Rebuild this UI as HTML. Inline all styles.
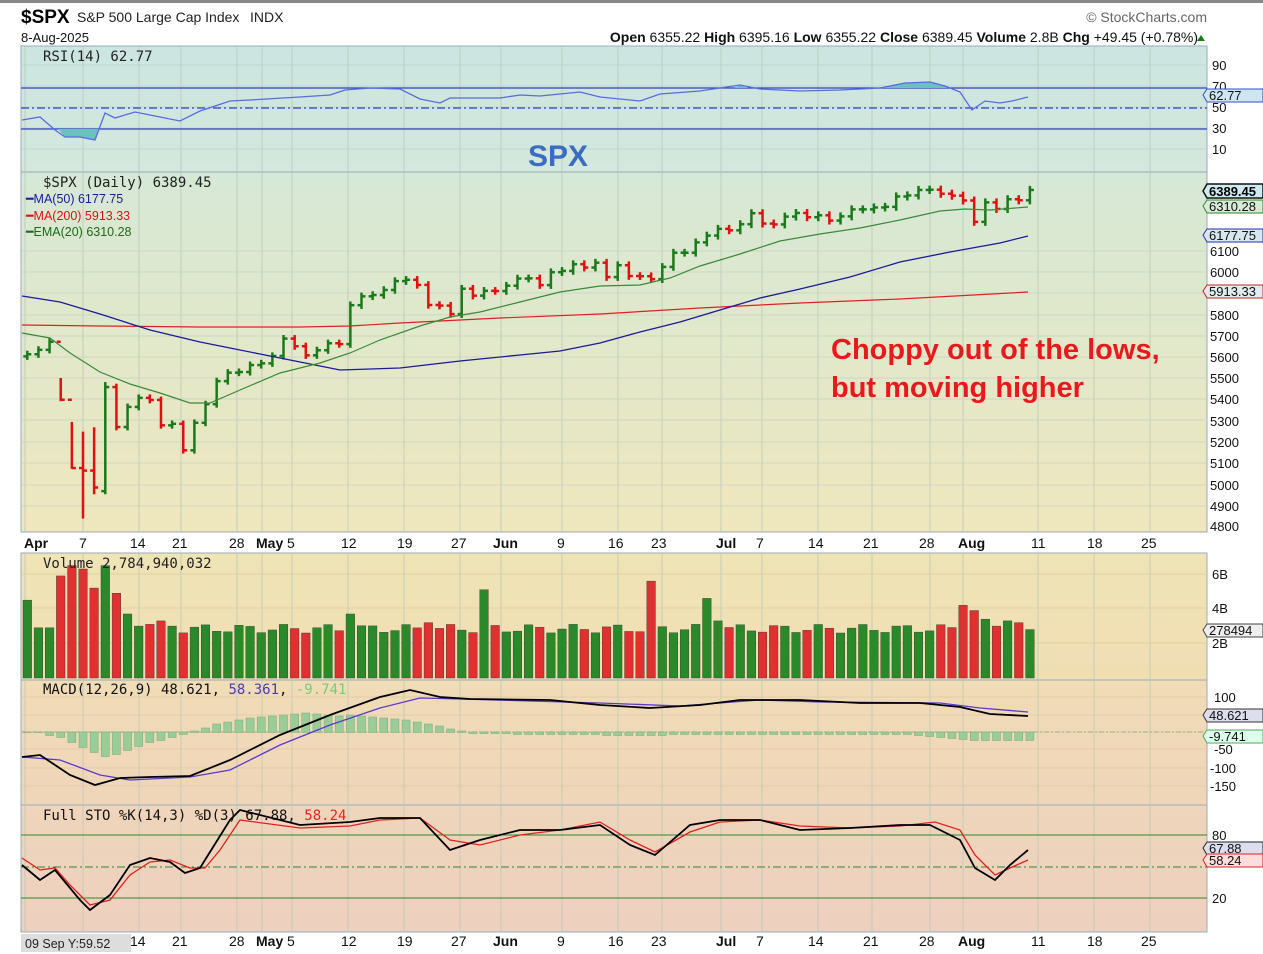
<!DOCTYPE html>
<html><head><meta charset="utf-8"><style>
body{margin:0;background:#fff;width:1263px;height:954px;overflow:hidden;font-family:"Liberation Sans",sans-serif}
svg{position:absolute;left:0;top:0}
</style></head><body>
<svg id="s" width="1263" height="954" xmlns="http://www.w3.org/2000/svg" font-family="Liberation Sans, sans-serif">
<defs>
<linearGradient id="gR" x1="0" y1="0" x2="0" y2="1"><stop offset="0" stop-color="#cbe5e0"/><stop offset="1" stop-color="#d4e8dd"/></linearGradient>
<linearGradient id="gP" x1="0" y1="0" x2="0" y2="1"><stop offset="0" stop-color="#d6e8d6"/><stop offset="1" stop-color="#efe7bd"/></linearGradient>
<linearGradient id="gV" x1="0" y1="0" x2="0" y2="1"><stop offset="0" stop-color="#efe4b6"/><stop offset="1" stop-color="#f0deb3"/></linearGradient>
<linearGradient id="gM" x1="0" y1="0" x2="0" y2="1"><stop offset="0" stop-color="#f0dcb6"/><stop offset="1" stop-color="#f0d5b9"/></linearGradient>
<linearGradient id="gS" x1="0" y1="0" x2="0" y2="1"><stop offset="0" stop-color="#efd5bb"/><stop offset="1" stop-color="#eed0bf"/></linearGradient>
</defs>
<rect x="0" y="0" width="1263" height="3" fill="#888"/>
<rect x="21" y="46" width="1186" height="126" fill="url(#gR)" stroke="#9ab" />
<rect x="21" y="172" width="1186" height="360" fill="url(#gP)" stroke="#9ab"/>
<rect x="21" y="553" width="1186" height="127" fill="url(#gV)" stroke="#9ab"/>
<rect x="21" y="680" width="1186" height="125" fill="url(#gM)" stroke="#9ab"/>
<rect x="21" y="805" width="1186" height="127" fill="url(#gS)" stroke="#9ab"/>
<g id="grid"></g>
<g id="plot"></g>
<text x="21" y="23" font-size="19" font-weight="bold" fill="#000">$SPX</text>
<text x="77" y="22" font-size="14" fill="#222">S&amp;P 500 Large Cap Index</text>
<text x="250" y="22" font-size="14" fill="#222">INDX</text>
<text x="21" y="42" font-size="13" fill="#111">8-Aug-2025</text>
<text x="1207" y="22" font-size="14" fill="#666" text-anchor="end">© StockCharts.com</text>
<text x="1198" y="42" font-size="14" fill="#111" text-anchor="end"><tspan font-weight="bold">Open</tspan> 6355.22  <tspan font-weight="bold">High</tspan> 6395.16  <tspan font-weight="bold">Low</tspan> 6355.22  <tspan font-weight="bold">Close</tspan> 6389.45  <tspan font-weight="bold">Volume</tspan> 2.8B  <tspan font-weight="bold">Chg</tspan> +49.45 (+0.78%)</text>
<polygon points="1197,41 1205,41 1201,35" fill="#1a7a1a"/>
<text x="43" y="61" font-size="14" fill="#222" font-family="DejaVu Sans Mono, monospace">RSI(14) 62.77</text>
<text x="528" y="166" font-size="30" font-weight="bold" fill="#3a6cc0">SPX</text>
<text x="43" y="187" font-size="14" fill="#222" font-family="DejaVu Sans Mono, monospace">$SPX (Daily) 6389.45</text>
<text x="26" y="203" font-size="12.5" fill="#1a1a9a">━MA(50) 6177.75</text>
<text x="26" y="220" font-size="12.5" fill="#d11">━MA(200) 5913.33</text>
<text x="26" y="236" font-size="12.5" fill="#1a6a1a">━EMA(20) 6310.28</text>
<text x="831" y="359" font-size="29" font-weight="bold" fill="#e8191c">Choppy out of the lows,</text>
<text x="831" y="397" font-size="29" font-weight="bold" fill="#e8191c">but moving higher</text>
<text x="43" y="568" font-size="14" fill="#222" font-family="DejaVu Sans Mono, monospace">Volume 2,784,940,032</text>
<text x="43" y="694" font-size="14" fill="#111" font-family="DejaVu Sans Mono, monospace">MACD(12,26,9) 48.621, <tspan fill="#4a3ab0">58.361</tspan>, <tspan fill="#7c7">-9.741</tspan></text>
<text x="43" y="820" font-size="14" fill="#111" font-family="DejaVu Sans Mono, monospace">Full STO %K(14,3) %D(3) 67.88, <tspan fill="#e22">58.24</tspan></text>
<g font-size="13" fill="#111">
<text x="1212" y="70">90</text><text x="1212" y="91">70</text><text x="1212" y="112">50</text><text x="1212" y="133">30</text><text x="1212" y="154">10</text>
<text x="1210" y="256">6100</text><text x="1210" y="277">6000</text><text x="1210" y="320">5800</text><text x="1210" y="341">5700</text><text x="1210" y="362">5600</text><text x="1210" y="383">5500</text><text x="1210" y="404">5400</text><text x="1210" y="426">5300</text><text x="1210" y="447">5200</text><text x="1210" y="468">5100</text><text x="1210" y="490">5000</text><text x="1210" y="511">4900</text><text x="1210" y="531">4800</text>
<text x="1212" y="579">6B</text><text x="1212" y="613">4B</text><text x="1212" y="648">2B</text>
<text x="1214" y="702">100</text><text x="1214" y="754">-50</text><text x="1210" y="773">-100</text><text x="1210" y="791">-150</text>
<text x="1212" y="840">80</text><text x="1212" y="903">20</text>
</g>
<g font-size="13">
<path d="M1203,95 l4,-6 h56 v13 h-56z" fill="#cfe6f0" stroke="#3050c0"/><text x="1209" y="100" fill="#111">62.77</text>
<path d="M1203,191 l4,-7 h56 v14 h-56z" fill="#cfeaf0" stroke="#111" stroke-width="1.5"/><text x="1209" y="196" font-weight="bold" fill="#000">6389.45</text>
<path d="M1203,206 l4,-6 h56 v13 h-56z" fill="#d8ead8" stroke="#2a8a2a"/><text x="1209" y="211" fill="#111">6310.28</text>
<path d="M1203,235 l4,-6 h56 v13 h-56z" fill="#d8e6ee" stroke="#2030b0"/><text x="1209" y="240" fill="#111">6177.75</text>
<path d="M1203,291 l4,-6 h56 v13 h-56z" fill="#e0ecee" stroke="#d02020"/><text x="1209" y="296" fill="#111">5913.33</text>
<path d="M1203,630 l4,-6 h56 v13 h-56z" fill="#eee" stroke="#444"/><text x="1209" y="635" fill="#111">278494</text>
<path d="M1203,715 l4,-6 h56 v13 h-56z" fill="#dde" stroke="#333"/><text x="1209" y="720" fill="#111">48.621</text>
<path d="M1203,736 l4,-6 h56 v13 h-56z" fill="#dfe" stroke="#5a5"/><text x="1209" y="741" fill="#111">-9.741</text>
<path d="M1203,848 l4,-6 h56 v13 h-56z" fill="#dde" stroke="#222"/><text x="1209" y="853" fill="#111">67.88</text>
<path d="M1203,860 l4,-6 h56 v13 h-56z" fill="#fdd" stroke="#d22"/><text x="1209" y="865" fill="#111">58.24</text>
</g>
<g font-size="14" fill="#111">
<text x="24" y="548" font-weight="bold">Apr</text><text x="79" y="548">7</text><text x="130" y="548">14</text><text x="172" y="548">21</text><text x="229" y="548">28</text><text x="256" y="548" font-weight="bold">May</text><text x="287" y="548">5</text><text x="341" y="548">12</text><text x="397" y="548">19</text><text x="451" y="548">27</text><text x="493" y="548" font-weight="bold">Jun</text><text x="557" y="548">9</text><text x="608" y="548">16</text><text x="651" y="548">23</text><text x="716" y="548" font-weight="bold">Jul</text><text x="756" y="548">7</text><text x="808" y="548">14</text><text x="863" y="548">21</text><text x="919" y="548">28</text><text x="958" y="548" font-weight="bold">Aug</text><text x="1031" y="548">11</text><text x="1087" y="548">18</text><text x="1141" y="548">25</text>
<text x="130" y="946">14</text><text x="172" y="946">21</text><text x="229" y="946">28</text><text x="256" y="946" font-weight="bold">May</text><text x="287" y="946">5</text><text x="341" y="946">12</text><text x="397" y="946">19</text><text x="451" y="946">27</text><text x="493" y="946" font-weight="bold">Jun</text><text x="557" y="946">9</text><text x="608" y="946">16</text><text x="651" y="946">23</text><text x="716" y="946" font-weight="bold">Jul</text><text x="756" y="946">7</text><text x="808" y="946">14</text><text x="863" y="946">21</text><text x="919" y="946">28</text><text x="958" y="946" font-weight="bold">Aug</text><text x="1031" y="946">11</text><text x="1087" y="946">18</text><text x="1141" y="946">25</text>
</g>
<rect x="21" y="934" width="110" height="18" fill="#ddd"/>
<text x="25" y="948" font-size="12.5" fill="#222">09 Sep Y:59.52</text>
</svg>
<script>
var NS="http://www.w3.org/2000/svg";
function el(p,t,a){var e=document.createElementNS(NS,t);for(var k in a)e.setAttribute(k,a[k]);p.appendChild(e);return e;}
var G=document.getElementById('grid'),P=document.getElementById('plot');
var vx=[25,83,139,181,237,262,292,348,404,460,501,562,618,662,721,762,818,872,930,963,1038,1094,1150];
var panels=[[46,172],[172,532],[553,680],[680,805],[805,932]];
panels.forEach(function(p){vx.forEach(function(x){el(G,'line',{x1:x,x2:x,y1:p[0],y2:p[1],stroke:'#b8c8b8','stroke-width':0.8});});});
[251,272,293,315,336,357,378,399,420,442,463,485,506].forEach(function(y){el(G,'line',{x1:21,x2:1207,y1:y,y2:y,stroke:'#c4d2c0','stroke-width':0.7});});
[65,86,107,128,149].forEach(function(y){el(G,'line',{x1:21,x2:1207,y1:y,y2:y,stroke:'#b8d0cc','stroke-width':0.7});});
[574,608,643].forEach(function(y){el(G,'line',{x1:21,x2:1207,y1:y,y2:y,stroke:'#d8cca0','stroke-width':0.7});});
[697,715,732,749,768,786].forEach(function(y){el(G,'line',{x1:21,x2:1207,y1:y,y2:y,stroke:'#dcc8a8','stroke-width':0.7});});
el(P,'line',{x1:21,x2:1207,y1:88,y2:88,stroke:'#3040c0','stroke-width':1.3});
el(P,'line',{x1:21,x2:1207,y1:129,y2:129,stroke:'#3040c0','stroke-width':1.3});
el(P,'line',{x1:21,x2:1207,y1:108,y2:108,stroke:'#3040c0','stroke-width':1.2,'stroke-dasharray':'8,3,2,3'});
var rsi="22,120 40,117 55,130 65,137 80,137 95,140 105,113 115,118 135,112 160,117 180,121 200,111 230,101 250,100 300,97 330,95 345,90 370,88 400,89 420,99 440,103 450,98 500,98 520,95 540,96 560,94 580,92 600,97 640,101 660,94 700,91 740,85 760,89 800,91 840,90 880,88 905,83 930,82 945,86 960,92 972,110 985,101 1000,103 1012,101 1028,97";
el(P,'polygon',{points:"58,129 65,137 80,137 95,140 100,129",fill:'#6cc0c0'});
el(P,'polygon',{points:"880,88 905,83 930,82 945,86 947,88",fill:'#6cc0c0'});
el(P,'polygon',{points:"735,88 740,85 748,88",fill:'#6cc0c0'});
el(P,'polyline',{points:rsi,fill:'none',stroke:'#5a6ae0','stroke-width':1.3});
var C=[5612,5633,5671,5397,5074,5062,4982,5457,5268,5363,5406,5396,5276,5283,5158,5288,5376,5485,5525,5528,5561,5569,5604,5686,5650,5607,5631,5664,5660,5844,5886,5892,5916,5958,5964,5940,5845,5842,5802,5922,5889,5912,5911,5936,5970,5971,5939,6000,6006,6038,6022,6045,5977,6033,5982,5981,5967,6025,6092,6092,6141,6173,6205,6198,6227,6279,6230,6226,6263,6280,6260,6269,6244,6264,6297,6297,6306,6309,6358,6363,6389,6390,6371,6362,6339,6238,6330,6299,6345,6340,6389];
var Hs={5:5246,6:5267,7:5481,4:5292,3:5500},Ls={5:4835,6:4950,7:4950,4:5070,3:5390};
function X(i){return 83+11.14*(i-5);}
function Y(p){return 526-(p-4800)*0.2115;}
for(var i=0;i<C.length;i++){
 var c=C[i],o=i?C[i-1]:c-10; if(i==7)o=4965;
 var h=Hs[i]||Math.max(o,c)+c*0.003, l=Ls[i]||Math.min(o,c)-c*0.003;
 var col=(i&&c<C[i-1])?'#e01010':'#1a7a1a', x=X(i);
 el(P,'line',{x1:x,x2:x,y1:Y(h),y2:Y(l),stroke:col,'stroke-width':2.5});
 el(P,'line',{x1:x-4,x2:x,y1:Y(o),y2:Y(o),stroke:col,'stroke-width':2.5});
 el(P,'line',{x1:x,x2:x+4,y1:Y(c),y2:Y(c),stroke:col,'stroke-width':2.5});
}
el(P,'polyline',{points:"22,325 100,326 200,327 300,327 350,326 400,323 500,318 600,314 700,308 800,303 900,299 1028,292",fill:'none',stroke:'#e02020','stroke-width':1.2});
el(P,'polyline',{points:"22,296 60,302 100,314 150,330 200,342 260,354 300,362 340,370 400,368 460,361 520,355 560,351 600,343 640,332 680,322 720,310 760,298 800,289 850,277 900,262 950,252 1000,243 1028,236",fill:'none',stroke:'#1a1a9a','stroke-width':1.3});
el(P,'polyline',{points:"22,333 50,338 70,353 100,372 130,384 160,393 190,403 210,403 240,390 280,373 320,363 350,353 380,340 420,326 450,317 480,312 520,302 560,292 600,286 640,285 670,278 700,266 740,254 780,241 820,234 860,228 900,220 940,211 965,209 990,210 1028,207",fill:'none',stroke:'#3a8a3a','stroke-width':1.2});
// volume: explicit per bar (91)
var V=[];for(var i=0;i<C.length;i++)V.push(2.85+0.25*Math.sin(i*1.7));
V[0]=4.5;V[1]=2.9;V[2]=2.9;V[3]=5.9;V[4]=6.5;V[5]=6.3;V[6]=5.2;V[7]=6.5;V[8]=4.9;V[9]=3.7;V[10]=3.0;V[11]=3.1;V[12]=3.3;V[13]=3.0;
V[29]=3.7;V[36]=3.2;V[41]=5.1;V[56]=5.6;V[61]=4.6;V[62]=3.3;V[84]=4.2;V[85]=3.9;V[86]=3.4;V[87]=3.0;V[88]=3.3;V[89]=3.2;V[90]=2.8;
for(var i=0;i<C.length;i++){var v=V[i],x=X(i),col=(i&&C[i]<C[i-1])?'#e03030':'#2a8a2a';
 el(P,'rect',{x:x-4.3,y:678-v*17.3,width:8.6,height:v*17.3,fill:col,stroke:'#333','stroke-width':0.4});}
el(P,'line',{x1:21,x2:1207,y1:732,y2:732,stroke:'#7a7','stroke-width':0.8,'stroke-dasharray':'5,2,2,2'});
var hist=[0,0,-3,-5,-10,-15,-20,-24,-22,-18,-14,-10,-8,-5,-2,1,4,8,10,12,14,15,16,17,18,19,18,17,16,17,16,15,14,13,12,10,8,6,3,1,-1,-1,-1,-1,-2,-2,-2,-2,-2,-2,-2,-2,-3,-3,-3,-3,-3,-3,-2,-2,-2,-2,-2,-2,-2,-2,-2,-2,-2,-2,-2,-2,-2,-2,-2,-2,-2,-2,-2,-2,-3,-4,-5,-6,-7,-8,-8,-8,-8,-8,-8];
for(var i=0;i<C.length;i++){var h=hist[i]||0,x=X(i);
 el(P,'rect',{x:x-4,y:Math.min(732,732-h),width:8,height:Math.abs(h)+0.5,fill:'#9c9',stroke:'#7a7','stroke-width':0.5});}
el(P,'polyline',{points:"22,757 60,760 100,775 130,780 190,777 230,770 280,745 330,725 380,708 420,698 460,699 600,703 680,706 760,700 820,702 940,703 980,708 1028,712",fill:'none',stroke:'#5a3ad0','stroke-width':1.3});
el(P,'polyline',{points:"22,757 40,755 70,775 95,785 120,778 150,777 190,776 230,760 280,735 330,715 380,697 410,690 440,697 470,699 550,700 600,705 650,708 700,705 740,700 800,700 860,703 920,703 960,707 990,714 1028,716",fill:'none',stroke:'#000','stroke-width':1.8});
el(P,'line',{x1:21,x2:1207,y1:835,y2:835,stroke:'#2a8a2a','stroke-width':1});
el(P,'line',{x1:21,x2:1207,y1:898,y2:898,stroke:'#2a8a2a','stroke-width':1});
el(P,'line',{x1:21,x2:1207,y1:867,y2:867,stroke:'#2a8a2a','stroke-width':1,'stroke-dasharray':'8,3,2,3'});
el(P,'polyline',{points:"22,858 40,870 55,868 70,885 90,905 110,900 130,875 150,862 170,860 190,868 205,868 220,850 240,820 300,828 350,826 380,820 420,818 450,840 480,845 520,835 560,830 600,822 630,840 655,852 690,832 720,822 760,820 800,826 850,828 900,826 935,822 960,830 975,855 995,875 1010,868 1028,860",fill:'none',stroke:'#e02020','stroke-width':1.3});
el(P,'polyline',{points:"22,865 40,880 55,870 80,900 90,910 110,895 130,865 150,858 170,862 185,873 200,868 230,820 240,810 300,825 350,822 380,818 420,818 450,850 480,840 520,830 560,830 600,825 630,845 655,855 690,825 720,820 760,820 800,830 850,828 900,825 930,825 960,840 975,868 995,880 1010,865 1028,850",fill:'none',stroke:'#000','stroke-width':1.8});
</script>
</body></html>
